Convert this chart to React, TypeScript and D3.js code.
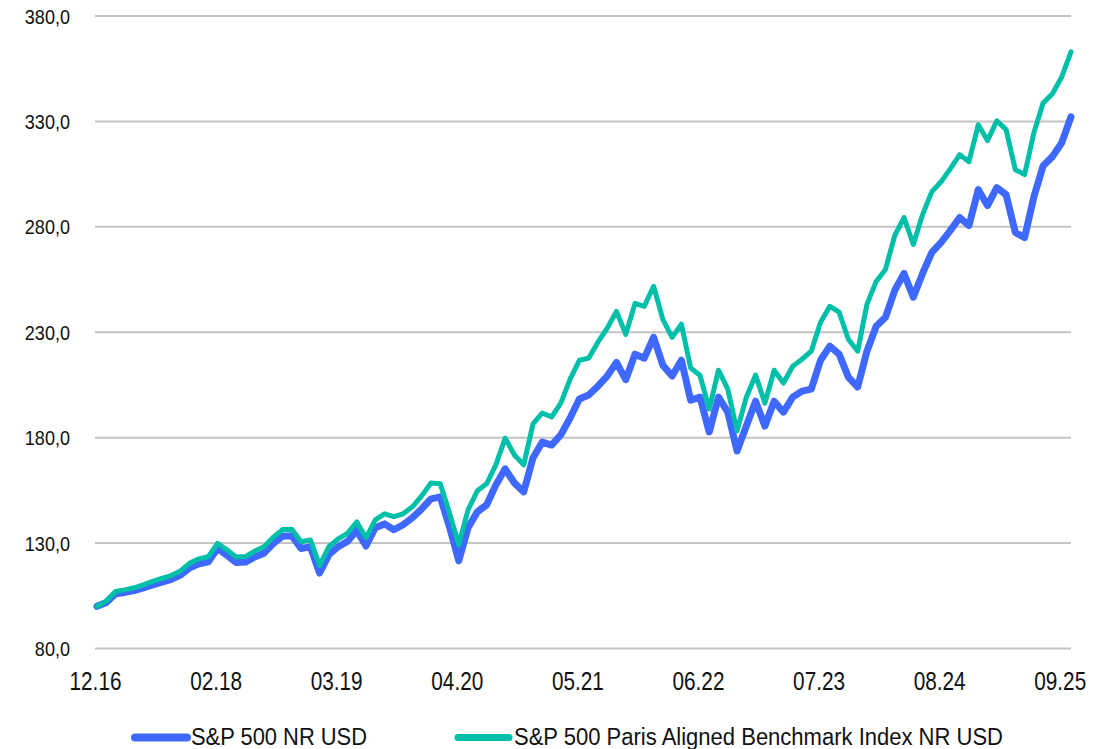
import React from "react";
import * as d3 from "d3";

// Category axis: month-end index 0..105 (Dec 2016 .. Sep 2025)
const tickIndex = [0, 13, 26, 39, 52, 65, 78, 91, 104];
const tickLabels = ["12.16", "02.18", "03.19", "04.20", "05.21", "06.22", "07.23", "08.24", "09.25"];
const yTicks = [80, 130, 180, 230, 280, 330, 380];

const spx = [
  100, 101.8, 106, 106.6, 107.5, 108.8, 110.2, 111.5, 112.8, 114.8,
  118.3, 120.2, 121.1, 127.5, 124.2, 120.8, 121, 123.4, 125.2, 129.8,
  133.2, 133.5, 127.4, 128.2, 115.8, 124.5, 128.3, 130.8, 136, 128.6,
  137.3, 139.1, 136.3, 138.7, 142, 146.2, 151, 151.9, 137.7, 121.6,
  137.3, 144.8, 148.1, 157.6, 165.2, 158.5, 154.3, 170.4, 177.9, 176.5,
  181.3, 189.3, 198.3, 200.2, 204.4, 209.2, 215.7, 207.5, 219.6, 217.7,
  227.6, 214.4, 209.2, 216.7, 197.8, 199.2, 182.7, 199.2, 192.1, 173.7,
  185.5, 197.3, 185.5, 197.3, 192.1, 199.2, 202.1, 203, 216.7, 223.4,
  219.6, 208.7, 204, 221, 232.8, 237.1, 249.9, 257.9, 246.6, 257.9,
  267.9, 272.6, 278.3, 284.4, 280.6, 297.7, 290.1, 298.6, 295.3, 277.3,
  274.9, 294.3, 309, 313.3, 319.9, 332.2,
];

const paris = [
  100, 102.5, 107, 107.8, 108.8, 110.2, 111.8, 113.2, 114.6, 116.8,
  120.5, 122.5, 123.5, 129.8, 126.8, 123.4, 123.6, 126.2, 128.3, 132.8,
  136.4, 136.6, 130.6, 131.5, 119.4, 128.3, 132, 134.6, 140, 132.5,
  141, 143.9, 142.5, 143.9, 147.2, 152.4, 158.5, 158.1, 144.3, 129.2,
  145.8, 154.8, 158.1, 167.1, 179.8, 171.8, 167.1, 186.5, 191.7, 189.8,
  196.4, 207.8, 216.7, 217.7, 225.3, 231.9, 239.9, 229, 243.7, 242.3,
  251.8, 236.1, 227.6, 233.8, 213, 209.6, 193.6, 212, 203, 183.2,
  199.2, 209.7, 196.4, 212, 205.9, 213.9, 217.2, 221, 234.7, 242.3,
  239.5, 226.7, 221, 243.2, 254.1, 259.8, 275.9, 284.4, 271.6, 285.8,
  296.7, 301.4, 307.6, 314.2, 310.9, 328.4, 320.9, 330.3, 326.1, 307.1,
  304.8, 324.6, 338.8, 343.1, 351.1, 363,
];

const seriesNames = ["S&P 500 NR USD", "S&P 500 Paris Aligned Benchmark Index NR USD"];
const BLUE = "#3F68FF";
const TEAL = "#00BFA8";

export default function App() {
  const W = 1119, H = 749;
  const x = d3.scaleLinear().domain([0, spx.length - 1]).range([97, 1071]);
  const y = d3.scaleLinear().domain([80, 380]).range([648.5, 16]);
  const line = d3
    .line<number>()
    .x((_, i) => x(i))
    .y((d) => y(d))
    .curve(d3.curveLinear);
  const font = "'Liberation Sans', Arial, sans-serif";

  return (
    <svg
      width={W}
      height={H}
      style={{ position: "absolute", left: 0, top: 0, background: "#fff" }}
    >
      {/* gridlines */}
      {yTicks.map((t) => (
        <line key={t} x1={95} x2={1071} y1={y(t)} y2={y(t)} stroke="#c4c4c4" strokeWidth={2} />
      ))}
      {/* y labels */}
      {yTicks.map((t) => (
        <text
          key={"l" + t}
          transform={`translate(70,${y(t) + 7.5}) scale(0.86,1)`}
          textAnchor="end"
          fontFamily={font}
          fontSize={21}
          fill="#111"
        >
          {d3.format(".1f")(t).replace(".", ",")}
        </text>
      ))}
      {/* x labels */}
      {tickIndex.map((ti, k) => (
        <text
          key={"x" + ti}
          transform={`translate(${x(ti) - 1.5},690) scale(0.83,1)`}
          textAnchor="middle"
          fontFamily={font}
          fontSize={25}
          fill="#111"
        >
          {tickLabels[k]}
        </text>
      ))}
      {/* series */}
      <path
        d={line(spx) || ""}
        fill="none"
        stroke={BLUE}
        strokeWidth={7}
        strokeLinejoin="round"
        strokeLinecap="round"
      />
      <path
        d={line(paris) || ""}
        fill="none"
        stroke={TEAL}
        strokeWidth={5}
        strokeLinejoin="round"
        strokeLinecap="round"
      />
      {/* legend */}
      <line x1={135} x2={187} y1={737.5} y2={737.5} stroke={BLUE} strokeWidth={8} strokeLinecap="round" />
      <text
        x={191}
        y={745}
        fontFamily={font}
        fontSize={23}
        fill="#111"
        textLength={176}
        lengthAdjust="spacingAndGlyphs"
      >
        {seriesNames[0]}
      </text>
      <line x1={458} x2={509} y1={737.5} y2={737.5} stroke={TEAL} strokeWidth={7} strokeLinecap="round" />
      <text
        x={514}
        y={745}
        fontFamily={font}
        fontSize={23}
        fill="#111"
        textLength={489}
        lengthAdjust="spacingAndGlyphs"
      >
        {seriesNames[1]}
      </text>
    </svg>
  );
}
